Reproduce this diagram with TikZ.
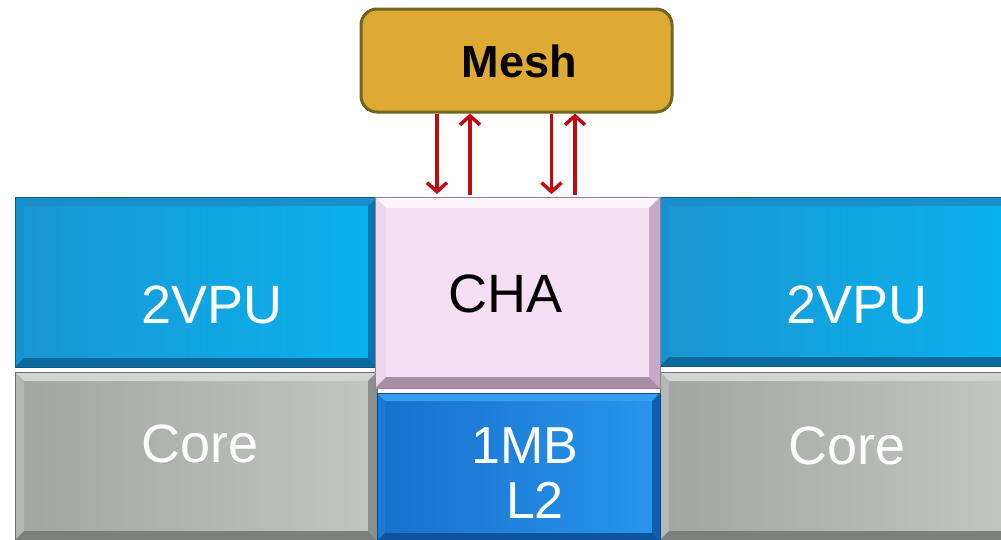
\documentclass[tikz,border=0pt]{standalone}
\usepackage{fontspec}
\setmainfont{Liberation Sans}
\usetikzlibrary{arrows.meta,calc}
\definecolor{vpuL}{HTML}{1A96D2}
\definecolor{vpuR}{HTML}{08B2EF}
\definecolor{vpuT}{HTML}{1A8FCC}
\definecolor{vpuS}{HTML}{1392D0}
\definecolor{vpuD}{HTML}{0B74AC}
\definecolor{vpuB}{HTML}{0A6A9E}
\definecolor{vpuE}{HTML}{0C5C88}
\definecolor{corL}{HTML}{A3A5A3}
\definecolor{corR}{HTML}{C3C5C3}
\definecolor{corT}{HTML}{D2D4D2}
\definecolor{corS}{HTML}{B6B8B6}
\definecolor{corD}{HTML}{8C8E8C}
\definecolor{corB}{HTML}{7D7F7D}
\definecolor{corE}{HTML}{6E706E}
\definecolor{chaF}{HTML}{F6DFF3}
\definecolor{chaT}{HTML}{FCF4FB}
\definecolor{chaS}{HTML}{EFD6EB}
\definecolor{chaD}{HTML}{C9AAC5}
\definecolor{chaB}{HTML}{A98CA5}
\definecolor{chaE}{HTML}{9A7E96}
\definecolor{ltL}{HTML}{1770CC}
\definecolor{ltR}{HTML}{2896EC}
\definecolor{ltT}{HTML}{3A9EEE}
\definecolor{ltS}{HTML}{1B7AD6}
\definecolor{ltD}{HTML}{0F5EB0}
\definecolor{ltB}{HTML}{0C549E}
\definecolor{ltE}{HTML}{0A4A8A}
\definecolor{meshF}{HTML}{DFAA33}
\definecolor{meshE}{HTML}{6E6620}
\definecolor{arrR}{HTML}{C00A14}
\tikzset{
  bevel/.style n args={5}{%
    path picture={
      \path (path picture bounding box.north west) coordinate (pNW)
            (path picture bounding box.north east) coordinate (pNE)
            (path picture bounding box.south west) coordinate (pSW)
            (path picture bounding box.south east) coordinate (pSE);
      \fill[#2] (pNW) -- (pNE) -- ([shift={(-#1,-#1)}]pNE) -- ([shift={(#1,-#1)}]pNW) -- cycle;
      \fill[#3] (pNW) -- ([shift={(#1,-#1)}]pNW) -- ([shift={(#1,#1)}]pSW) -- (pSW) -- cycle;
      \fill[#4] (pNE) -- ([shift={(-#1,-#1)}]pNE) -- ([shift={(-#1,#1)}]pSE) -- (pSE) -- cycle;
      \fill[#5] (pSW) -- ([shift={(#1,#1)}]pSW) -- ([shift={(-#1,#1)}]pSE) -- (pSE) -- cycle;
    }},
  blk/.style={inner sep=0pt, outer sep=0pt, line width=1pt, anchor=center},
  vpubox/.style={blk, left color=vpuL, right color=vpuR, draw=vpuE, bevel={9pt}{vpuT}{vpuS}{vpuD}{vpuB}},
  corebox/.style={blk, left color=corL, right color=corR, draw=corE, bevel={9pt}{corT}{corS}{corD}{corB}},
  chabox/.style={blk, fill=chaF, draw=chaE, bevel={11pt}{chaT}{chaS}{chaD}{chaB}},
  l2box/.style={blk, left color=ltL, right color=ltR, draw=ltE, bevel={8pt}{ltT}{ltS}{ltD}{ltB}},
  meshbox/.style={inner sep=0pt, fill=meshF, draw=meshE, line width=3pt, rounded corners=16pt, anchor=center},
  wlbl/.style={text=white, font=\fontsize{54}{60}\selectfont, inner sep=0pt, anchor=center},
  blbl/.style={text=black, font=\fontsize{54}{60}\selectfont, inner sep=0pt, anchor=center},
  l2lbl/.style={text=white, font=\fontsize{52}{58}\selectfont, inner sep=0pt, anchor=center},
  meshlbl/.style={text=black, font=\fontsize{45}{50}\selectfont\bfseries, inner sep=0pt, anchor=center},
  arr/.style={draw=arrR, line width=3.5pt, -{Straight Barb[length=9pt,width=20pt]}}
}
\begin{document}
\begin{tikzpicture}[x=1pt,y=-1pt]
\useasboundingbox (0,0) rectangle (1001,539);
% left column
\node[vpubox, minimum width=362pt, minimum height=170pt] (vl) at (196,282) {};
\node[corebox, minimum width=362pt, minimum height=168pt] (cl) at (196,456) {};
% right column
\node[vpubox, minimum width=350pt, minimum height=169pt] (vr) at (835,281.5) {};
\node[corebox, minimum width=350pt, minimum height=168pt] (cr) at (835,456) {};
% middle column
\node[l2box, minimum width=283pt, minimum height=148pt] (l2) at (518.5,467) {};
\node[chabox, minimum width=285pt, minimum height=191pt] (cha) at (517.5,292.5) {};
% mesh
\node[meshbox, minimum width=311pt, minimum height=103pt] (mesh) at (516.5,60.5) {};
% labels
\node[wlbl] (tvl) at ([xshift=16pt,yshift=-23pt]vl.center) {2VPU};
\node[wlbl] (tvr) at ([xshift=22pt,yshift=-23.5pt]vr.center) {2VPU};
\node[wlbl] (tcl) at ([xshift=4pt,yshift=12.5pt]cl.center) {Core};
\node[wlbl] (tcr) at ([xshift=12pt,yshift=10pt]cr.center) {Core};
\node[blbl] (tcha) at ([xshift=-12pt,yshift=-1pt]cha.center) {CHA};
\node[l2lbl] (t1mb) at ([xshift=6.5pt,yshift=21pt]l2.center) {1MB};
\node[l2lbl] (tl2) at ([xshift=16.5pt,yshift=-33.5pt]l2.center) {L2};
\node[meshlbl] (tmesh) at ([xshift=3pt,yshift=-0.5pt]mesh.center) {Mesh};
% arrows
\draw[arr] ([xshift=-79.5pt]mesh.south) -- ([xshift=-79.5pt,yshift=3pt]mesh.south |- cha.north);
\draw[arr] ([xshift=-46.5pt,yshift=2pt]mesh.south |- cha.north) -- ([xshift=-46.5pt]mesh.south);
\draw[arr] ([xshift=35pt]mesh.south) -- ([xshift=35pt,yshift=3pt]mesh.south |- cha.north);
\draw[arr] ([xshift=58.5pt,yshift=2pt]mesh.south |- cha.north) -- ([xshift=58.5pt]mesh.south);
\end{tikzpicture}
\end{document}
